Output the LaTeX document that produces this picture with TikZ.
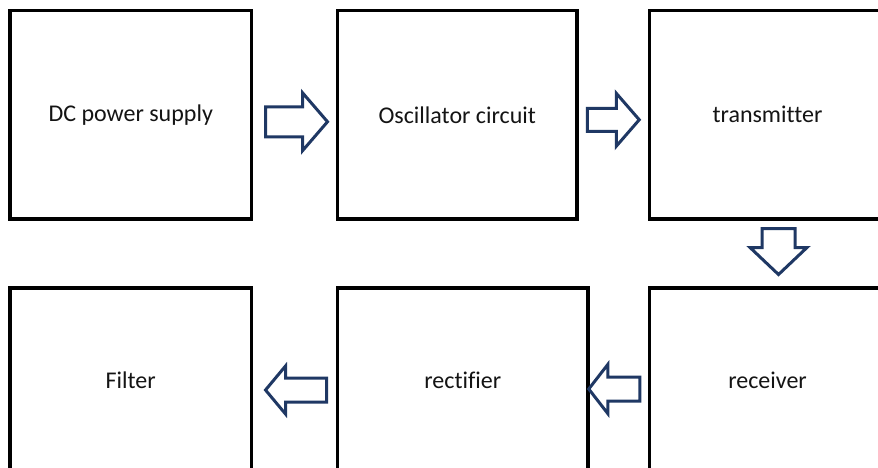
\documentclass[tikz,border=0pt]{standalone}
\usepackage{fontspec}
\setmainfont{Carlito}[Ligatures=NoCommon]
\usetikzlibrary{calc}
\definecolor{arrowblue}{RGB}{31,56,100}
\definecolor{txt}{RGB}{20,20,20}
\tikzset{
  box/.style={draw=black, line width=3.5pt, fill=white, inner sep=0pt,
    font=\fontsize{24}{28}\selectfont, text=txt},
  barrow/.style={draw=arrowblue, line width=3pt, line join=miter, fill=white}
}
% center, rotation, length, head length, shaft half width, head half width
\newcommand\blockarr[6]{%
  \draw[barrow, shift={#1}, rotate=#2]
    (-#3/2,-#5) -- (#3/2-#4,-#5) -- (#3/2-#4,-#6) -- (#3/2,0)
    -- (#3/2-#4,#6) -- (#3/2-#4,#5) -- (-#3/2,#5) -- cycle;}
\begin{document}
\begin{tikzpicture}[x=1pt,y=-1pt]
\useasboundingbox (0,0) rectangle (878,467);
\clip (0,0) rectangle (878,467);
\fill[white] (0,0) rectangle (878,467);
% row 1
\node[box, minimum width=241.5pt, minimum height=208.5pt] (dc) at (130.75,114.75) {DC power supply};
\node[box, minimum width=239.5pt, minimum height=208.5pt] (osc) at (457.25,114.75) {Oscillator circuit};
\node[box, minimum width=236pt, minimum height=208.5pt] (tx) at (767.5,114.75) {transmitter};
% row 2
\node[box, minimum width=241.5pt, minimum height=184pt] (filt) at (130.75,380) {Filter};
\node[box, minimum width=250.5pt, minimum height=184pt] (rect) at (462.75,380) {rectifier};
\node[box, minimum width=236pt, minimum height=184pt] (rx) at (767.5,380) {receiver};
% block arrows
\blockarr{($(dc.east)!0.5!(osc.west)+(2,7)$)}{0}{62}{25}{15}{29}
\blockarr{($(osc.east)!0.5!(tx.west)+(0,5)$)}{0}{52}{23}{11.5}{26.5}
\blockarr{($(tx.south)!0.5!(rx.north)+(11,-2)$)}{-90}{46}{27}{16.5}{28.5}
\blockarr{($(filt.east)!0.5!(rect.west)+(1.5,10)$)}{180}{61}{20}{12}{24}
\blockarr{($(rect.east)!0.5!(rx.west)+(-4.5,9)$)}{180}{51}{19}{12}{24.5}
\end{tikzpicture}
\end{document}
